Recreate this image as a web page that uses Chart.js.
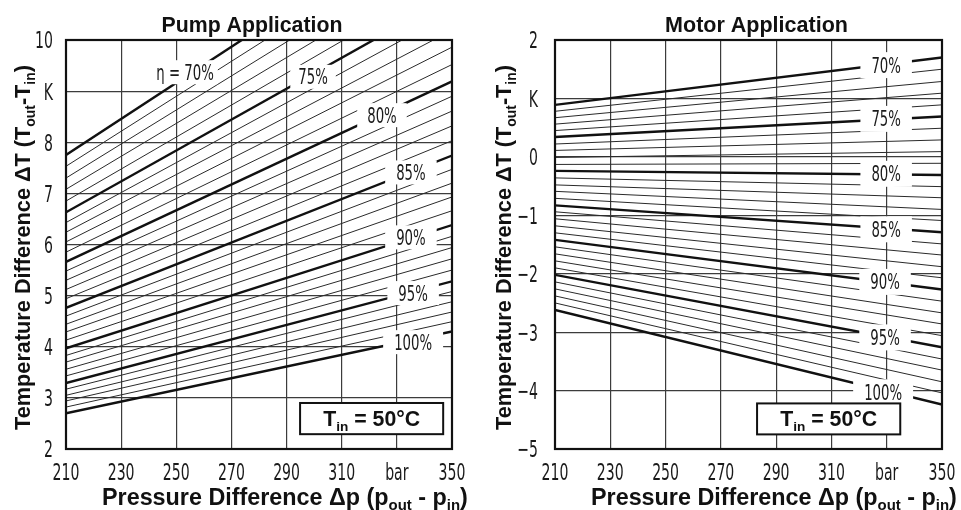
<!DOCTYPE html>
<html><head><meta charset="utf-8">
<script src="https://cdn.jsdelivr.net/npm/chart.js@4.4.1/dist/chart.umd.min.js"></script>
<style>
html,body{margin:0;padding:0;background:#fff;}
#wrap{position:relative;width:961px;height:510px;overflow:hidden;background:#fff;}
canvas{position:absolute;top:0;}
#c1{left:0;} #c2{left:480px;}
</style></head><body>
<div id="wrap"><canvas id="c1" width="480" height="510"></canvas><canvas id="c2" width="481" height="510"></canvas></div>
<script>
// ---------- data ----------
const efficiency = [70,71,72,73,74,75,76,77,78,79,80,81,82,83,84,85,86,87,88,89,90,91,92,93,94,95,96,97,98,99,100];
const pressureRange = [210, 350];
// Pump application: ΔT at 210 bar and at 350 bar for each efficiency line
const pumpDT210 = [7.75,7.53,7.30,7.08,6.85,6.63,6.43,6.24,6.05,5.85,5.66,5.48,5.30,5.12,4.94,4.76,4.60,4.44,4.29,4.13,3.97,3.83,3.70,3.56,3.43,3.29,3.17,3.05,2.94,2.82,2.70];
const pumpDT350 = [12.69,12.32,11.96,11.59,11.23,10.86,10.53,10.19,9.86,9.52,9.19,8.90,8.61,8.32,8.03,7.74,7.47,7.20,6.93,6.66,6.38,6.16,5.94,5.72,5.50,5.28,5.08,4.88,4.68,4.49,4.30];
// Motor application
const motorDT210 = [0.89,0.78,0.67,0.56,0.45,0.34,0.22,0.11,-0.01,-0.13,-0.24,-0.36,-0.48,-0.59,-0.71,-0.83,-0.94,-1.06,-1.18,-1.30,-1.42,-1.54,-1.66,-1.78,-1.90,-2.02,-2.14,-2.26,-2.38,-2.50,-2.62];
const motorDT350 = [1.70,1.50,1.29,1.09,0.89,0.69,0.49,0.29,0.09,-0.11,-0.31,-0.51,-0.70,-0.90,-1.09,-1.29,-1.49,-1.68,-1.88,-2.07,-2.27,-2.47,-2.67,-2.86,-3.06,-3.26,-3.46,-3.65,-3.85,-4.04,-4.24];
// ticks
const pressureTicks = [210,230,250,270,290,310,330,350];
const pressureTickLabels = ['210','230','250','270','290','310','bar','350'];
const pumpTempTicks = [2,3,4,5,6,7,8,9,10];
const pumpTempTickLabels = ['2','3','4','5','6','7','8','K','10'];
const motorTempTicks = [-5,-4,-3,-2,-1,0,1,2];
const motorTempTickLabels = ['\u22125','\u22124','\u22123','\u22122','\u22121','0','K','2'];
// curve labels
const pumpCurveLabels = ['\u03B7 = 70%','75%','80%','85%','90%','95%','100%'];
const motorCurveLabels = ['70%','75%','80%','85%','90%','95%','100%'];
const inletNote = [['T',0],['in',1],[' = 50\u00B0C',0]];
const yTitle = [['Temperature Difference \u0394T (T',0],['out',1],['-T',0],['in',1],[')',0]];
const xTitle = [['Pressure Difference \u0394p (p',0],['out',1],[' - p',0],['in',1],[')',0]];

// ---------- drawing helpers ----------
const NARROW = '"DejaVu Sans Condensed","DejaVu Sans",sans-serif';
const BOLD = '"Liberation Sans",Arial,Helvetica,sans-serif';
function narrowWidth(ctx, t, size, sx){ctx.save();ctx.font=size+'px '+NARROW;const w=ctx.measureText(t).width*sx;ctx.restore();return w;}
function narrowText(ctx, t, x, y, size, sx, align){
  ctx.save();ctx.font=size+'px '+NARROW;ctx.fillStyle='#1a1a1a';
  ctx.translate(x,y);ctx.scale(sx,1);ctx.textAlign=align;ctx.textBaseline='alphabetic';
  ctx.fillText(t,0,0);ctx.restore();
}
const SUB=0.64, SUBDY=0.22;
function richWidth(ctx, parts, size){
  let w=0;ctx.save();
  for(const [t,s] of parts){ctx.font='bold '+(s?size*SUB:size)+'px '+BOLD;w+=ctx.measureText(t).width;}
  ctx.restore();return w;
}
function drawRich(ctx, parts, x, y, size, align){
  const w=richWidth(ctx,parts,size);
  let cx = align==='center'? x-w/2 : (align==='right'? x-w : x);
  ctx.save();ctx.fillStyle='#111';ctx.textAlign='left';ctx.textBaseline='alphabetic';
  for(const [t,s] of parts){
    const sz=s?size*SUB:size;ctx.font='bold '+sz+'px '+BOLD;
    ctx.fillText(t,cx,y+(s?size*SUBDY:0));cx+=ctx.measureText(t).width;
  }
  ctx.restore();
}
function fit(ctx, parts, target){return 20*target/richWidth(ctx,parts,20);}

function makeChart(id, cfg){
  const canvas=document.getElementById(id);
  const datasets = efficiency.map((e,i)=>({
    data:[{x:pressureRange[0],y:cfg.at210[i]},{x:pressureRange[1],y:cfg.at350[i]}],
    borderColor: e%5===0 ? '#111' : '#2a2a2a',
    borderWidth: e%5===0 ? 2.4 : 1.0,
    pointRadius:0, fill:false, tension:0
  }));
  const decor = {
    id:'decor',
    afterDraw(chart){
      const ctx=chart.ctx, a=chart.chartArea, xs=chart.scales.x, ys=chart.scales.y;
      // curve labels with white backgrounds
      cfg.curveLabels.forEach((t,i)=>{
        const p=cfg.labelPos[i];
        const px=xs.getPixelForValue(p[0]), py=ys.getPixelForValue(p[1]);
        const tw=narrowWidth(ctx,t,20.5,0.72), pad=p[2];
        ctx.fillStyle='#fff';
        ctx.fillRect(px-tw/2-pad, py-cfg.boxH/2, tw+2*pad, cfg.boxH);
        narrowText(ctx,t,px,py+7.5,20.5,0.72,'center');
      });
      // inlet temperature note
      const b=cfg.note;
      const bx0=xs.getPixelForValue(b[0]), bx1=xs.getPixelForValue(b[1]);
      const by0=ys.getPixelForValue(b[2]), by1=ys.getPixelForValue(b[3]);
      ctx.fillStyle='#fff';ctx.fillRect(bx0,by0,bx1-bx0,by1-by0);
      ctx.lineWidth=2;ctx.strokeStyle='#111';ctx.strokeRect(bx0,by0,bx1-bx0,by1-by0);
      drawRich(ctx,inletNote,(bx0+bx1)/2,(by0+by1)/2+7.5,fit(ctx,inletNote,97),'center');
      // frame
      ctx.lineWidth=2.2;ctx.strokeStyle='#111';
      ctx.strokeRect(a.left,a.top,a.right-a.left,a.bottom-a.top);
      // tick labels
      pressureTicks.forEach((v,i)=>narrowText(ctx,pressureTickLabels[i],xs.getPixelForValue(v),a.bottom+31,23,0.68,'center'));
      cfg.yTicks.forEach((v,i)=>narrowText(ctx,cfg.yTickLabels[i],a.left-cfg.yGap,ys.getPixelForValue(v)+8.4,23,0.68,'right'));
      // titles
      drawRich(ctx,[[cfg.title,0]],cfg.titleX,32,fit(ctx,[[cfg.title,0]],cfg.titleW),'center');
      drawRich(ctx,xTitle,a.left+36,505,fit(ctx,xTitle,366),'left');
      ctx.save();ctx.translate(cfg.yTitleX,247.5);ctx.rotate(-Math.PI/2);
      drawRich(ctx,yTitle,0,0,fit(ctx,yTitle,365),'center');ctx.restore();
    }
  };
  return new Chart(canvas,{
    type:'line',
    data:{datasets},
    options:{
      responsive:false, animation:false, devicePixelRatio:1,
      layout:{padding:cfg.padding},
      plugins:{legend:{display:false},tooltip:{enabled:false},title:{display:false}},
      scales:{
        x:{type:'linear',min:pressureRange[0],max:pressureRange[1],
           ticks:{display:false,stepSize:20},
           grid:{color:'#3c3c3c',lineWidth:1.2,drawTicks:false},border:{display:false}},
        y:{type:'linear',min:cfg.yMin,max:cfg.yMax,
           ticks:{display:false,stepSize:1},
           grid:{color:'#3c3c3c',lineWidth:1.2,drawTicks:false},border:{display:false}}
      }
    },
    plugins:[decor]
  });
}

makeChart('c1',{
  at210:pumpDT210, at350:pumpDT350, yMin:2, yMax:10,
  yTicks:pumpTempTicks, yTickLabels:pumpTempTickLabels, yGap:13,
  curveLabels:pumpCurveLabels,
  labelPos:[[253.2,9.37,4],[299.6,9.28,8],[324.6,8.53,10],[335.1,7.41,11],[335.1,6.14,11],[335.9,5.05,11],[335.9,4.09,11]],
  boxH:24,
  note:[294.9,346.8,2.9,2.29],
  padding:{left:66,right:28,top:40,bottom:61},
  title:'Pump Application', titleX:252, titleW:181, yTitleX:30
});
makeChart('c2',{
  at210:motorDT210, at350:motorDT350, yMin:-5, yMax:2,
  yTicks:motorTempTicks, yTickLabels:motorTempTickLabels, yGap:17,
  curveLabels:motorCurveLabels,
  labelPos:[[329.8,1.57,11],[329.8,0.65,11],[329.8,-0.29,11],[329.8,-1.24,11],[329.4,-2.14,11],[329.4,-3.09,11],[328.7,-4.03,11]],
  boxH:26,
  note:[283.1,334.9,-4.22,-4.75],
  padding:{left:75,right:19,top:40,bottom:61},
  title:'Motor Application', titleX:276.5, titleW:183, yTitleX:31
});
</script>
</body></html>
